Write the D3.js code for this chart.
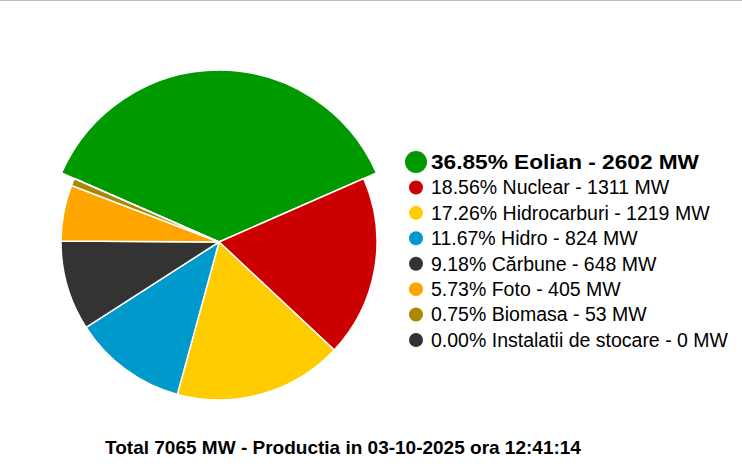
<!DOCTYPE html>
<html><head><meta charset="utf-8">
<script src="https://cdn.jsdelivr.net/npm/d3@7"></script>
<style>body{margin:0;background:#fff}svg{display:block}</style>
</head><body>
<svg id="c" width="742" height="472"></svg>
<script>
const categories=["Eolian","Nuclear","Hidrocarburi","Hidro","Cărbune","Foto","Biomasa","Instalatii de stocare"];
const values=[2602,1311,1219,824,648,405,53,0];
const percents=["36.85","18.56","17.26","11.67","9.18","5.73","0.75","0.00"];
const colors=["#009900","#cc0000","#ffcc00","#0099cc","#333333","#ffa500","#aa8800","#333333"];
const title="Total 7065 MW - Productia in 03-10-2025 ora 12:41:14";
const svg=d3.select("#c");
svg.append("line").attr("x1",0).attr("x2",742).attr("y1",0.5).attr("y2",0.5).attr("stroke","#bbb");
const total=d3.sum(values);
const a0=-values[0]/total*Math.PI;
const pie=d3.pie().sort(null).startAngle(a0).endAngle(a0+2*Math.PI);
const arc=d3.arc().innerRadius(0).outerRadius(158);
const arcBig=d3.arc().innerRadius(0).outerRadius(172);
const g=svg.append("g").attr("transform","translate(219,242)");
pie(values).forEach((d,i)=>{
  g.append("path").attr("d",(i===0?arcBig:arc)(d)).attr("fill",colors[i]).attr("stroke","#fff").attr("stroke-width",1.5);
});
const y=d3.scaleLinear().domain([0,7]).range([162,340]);
categories.forEach((c,i)=>{
  const big=i===0;
  svg.append("circle").attr("cx",416).attr("cy",y(i)).attr("r",big?11:7).attr("fill",colors[i]);
  const t=svg.append("text").attr("x",431).attr("y",y(i)).attr("dy","0.35em")
    .attr("font-family","Arial, Liberation Sans, sans-serif").attr("font-size",big?"20px":"19.5px")
    .attr("font-weight",big?"bold":"normal").attr("fill","#000")
    .text(`${percents[i]}% ${c} - ${values[i]} MW`);
  if(big) t.attr("textLength",268).attr("lengthAdjust","spacingAndGlyphs");
});
svg.append("text").attr("x",343).attr("y",447).attr("dy","0.35em").attr("text-anchor","middle")
  .attr("font-family","Arial, Liberation Sans, sans-serif").attr("font-size","19px").attr("font-weight","bold").text(title);
</script>
</body></html>
